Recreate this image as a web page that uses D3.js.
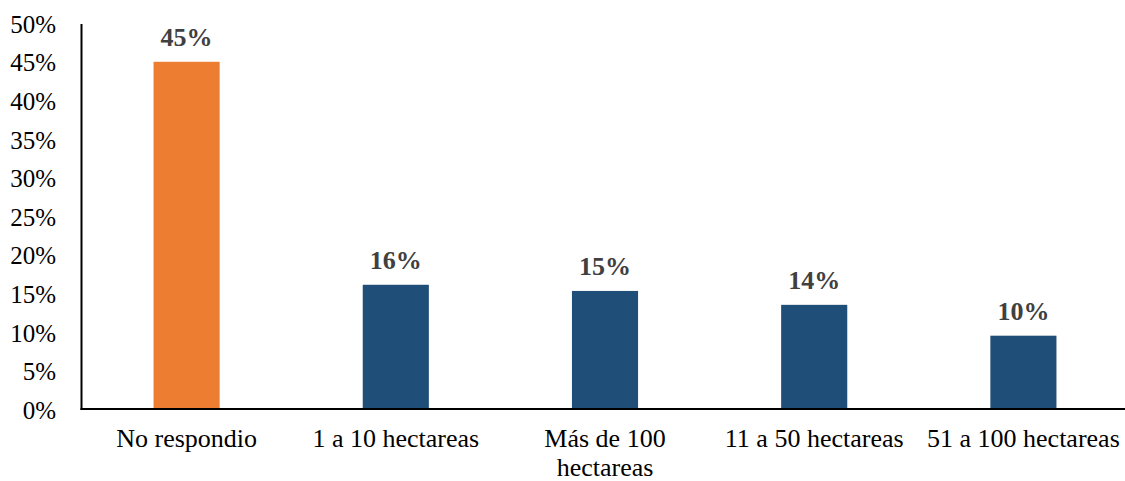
<!DOCTYPE html>
<html><head><meta charset="utf-8">
<script src="https://cdn.jsdelivr.net/npm/d3@7"></script>
<style>body{margin:0;background:#fff}svg{display:block}</style>
</head><body>
<svg id="c" width="1125" height="481"></svg>
<script>
const categories = ["No respondio", "1 a 10 hectareas", "Más de 100 hectareas", "11 a 50 hectareas", "51 a 100 hectareas"];
const categoryLines = [["No respondio"], ["1 a 10 hectareas"], ["Más de 100", "hectareas"], ["11 a 50 hectareas"], ["51 a 100 hectareas"]];
const values = [0.45, 0.161, 0.153, 0.135, 0.095];
const valueLabels = ["45%", "16%", "15%", "14%", "10%"];
const barColors = ["#ED7D31", "#1F4E79", "#1F4E79", "#1F4E79", "#1F4E79"];
const yTicks = [0, 0.05, 0.1, 0.15, 0.2, 0.25, 0.3, 0.35, 0.4, 0.45, 0.5];

const svg = d3.select("#c");
const font = "'Liberation Serif','Times New Roman',serif";
const x = d3.scaleBand().domain(categories).range([82, 1128]).paddingInner(0.684).paddingOuter(0.342);
const y = d3.scaleLinear().domain([0, 0.5]).range([409, 23.2]);

// y tick labels
svg.append("g").selectAll("text").data(yTicks).join("text")
  .attr("x", 56).attr("y", d => y(d) + 9.7)
  .attr("text-anchor", "end").attr("font-family", font).attr("font-size", 25)
  .attr("fill", "#000").text(d => d3.format(".0%")(d));

// bars
svg.append("g").selectAll("rect").data(values).join("rect")
  .attr("x", (d, i) => x(categories[i])).attr("width", x.bandwidth())
  .attr("y", d => y(d)).attr("height", d => y(0) - y(d))
  .attr("fill", (d, i) => barColors[i]);

// value labels
svg.append("g").selectAll("text").data(values).join("text")
  .attr("x", (d, i) => x(categories[i]) + x.bandwidth() / 2)
  .attr("y", d => y(d) - 15.7)
  .attr("text-anchor", "middle").attr("font-family", font).attr("font-size", 26)
  .attr("font-weight", "bold").attr("fill", "#404040")
  .text((d, i) => valueLabels[i]);

// axes lines
svg.append("line").attr("x1", 81.5).attr("x2", 81.5).attr("y1", 24).attr("y2", 410)
  .attr("stroke", "#000").attr("stroke-width", 2);
svg.append("line").attr("x1", 80.5).attr("x2", 1125).attr("y1", y(0)).attr("y2", y(0))
  .attr("stroke", "#000").attr("stroke-width", 2);

// category labels
const cg = svg.append("g").selectAll("text").data(categories).join("text")
  .attr("text-anchor", "middle").attr("font-family", font).attr("font-size", 26)
  .attr("fill", "#000")
  .attr("transform", d => `translate(${x(d) + x.bandwidth() / 2},447)`);
cg.each(function(d, i) {
  d3.select(this).selectAll("tspan").data(categoryLines[i]).join("tspan")
    .attr("x", 0).attr("dy", (t, j) => j === 0 ? 0 : 29).text(t => t);
});
</script>
</body></html>
